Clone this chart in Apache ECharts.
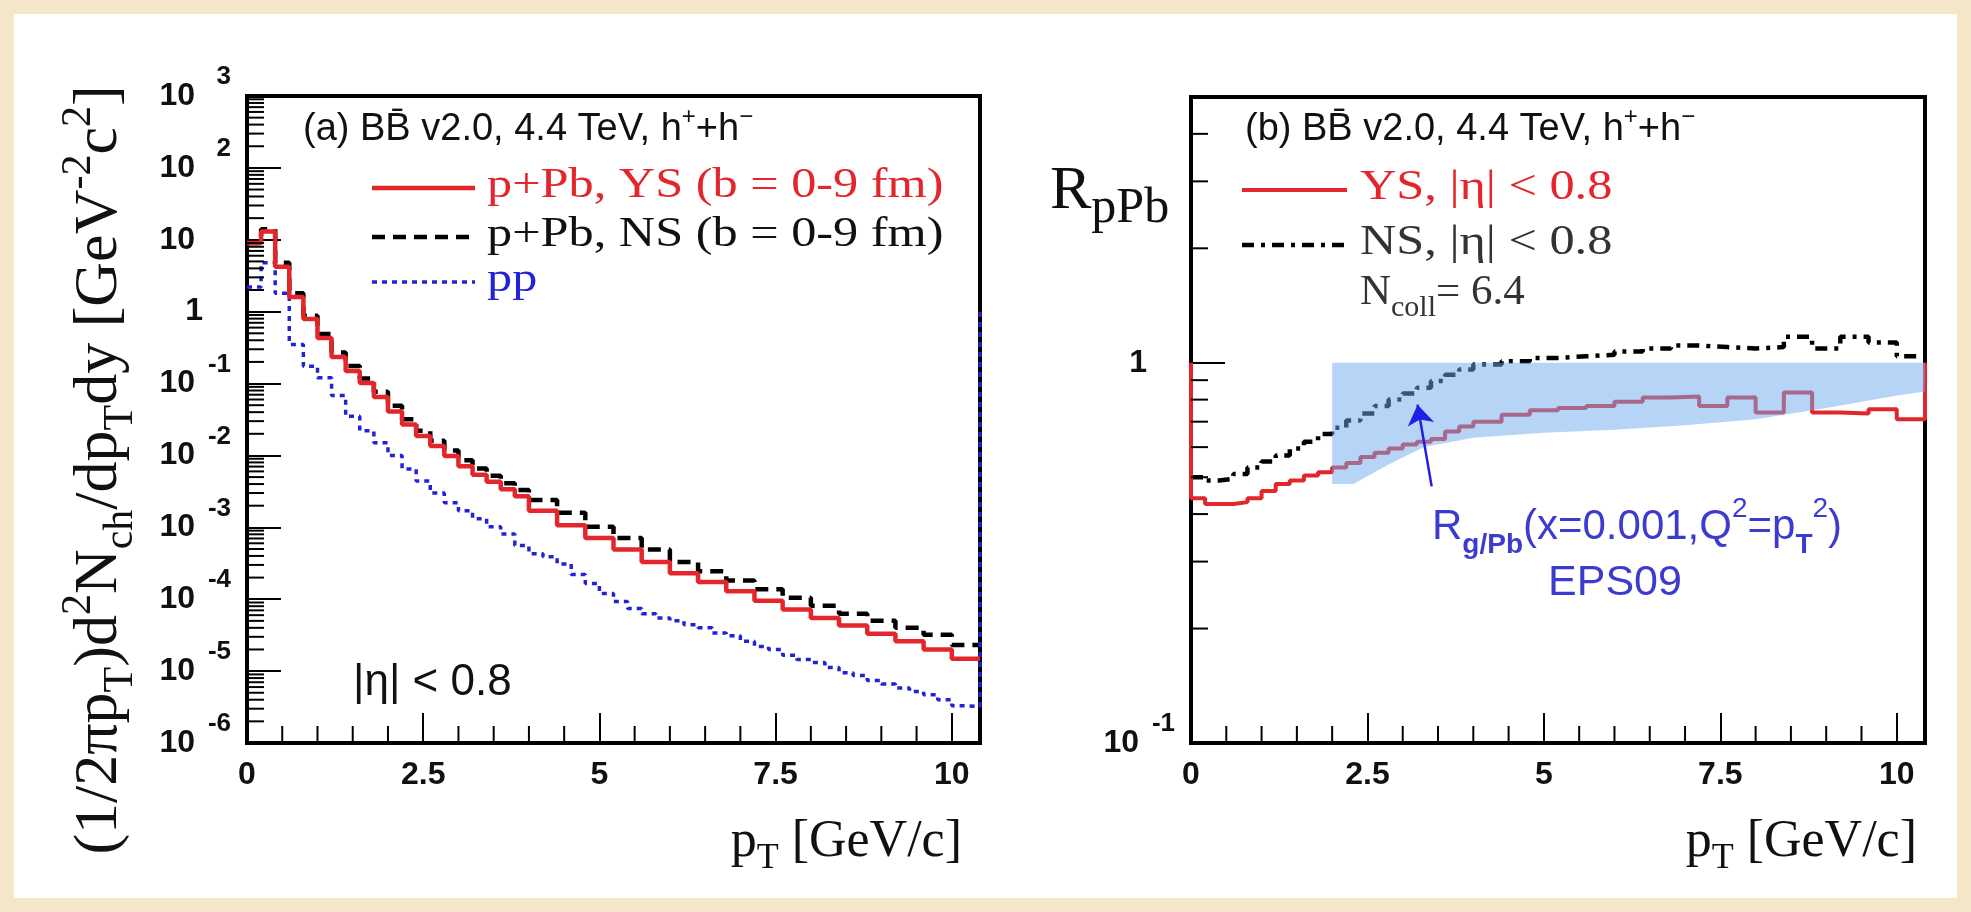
<!DOCTYPE html>
<html>
<head>
<meta charset="utf-8">
<script src="https://cdn.jsdelivr.net/npm/echarts@6/dist/echarts.min.js"></script>
<style>
  html, body { margin: 0; padding: 0; background: #f3e7c7; }
  #chart { width: 1971px; height: 912px; }
</style>
</head>
<body>
<div id="chart"></div>
<script>
// ---- values ----
// low edges of the p+Pb histogram bins (GeV/c), 0.2 wide below 4, 0.4 wide above
const ptEdges = [0, 0.2, 0.4, 0.6, 0.8, 1.0, 1.2, 1.4, 1.6, 1.8, 2.0, 2.2, 2.4, 2.6, 2.8, 3.0, 3.2, 3.4, 3.6, 3.8,
  4.0, 4.4, 4.8, 5.2, 5.6, 6.0, 6.4, 6.8, 7.2, 7.6, 8.0, 8.4, 8.8, 9.2, 9.6, 10.0];
const ptMax = 10.4;

// (a) spectra
const ysSpectrum = [9, 13, 4.2, 1.6, 0.79, 0.43, 0.235, 0.15, 0.102, 0.065, 0.041, 0.027, 0.0186, 0.0135, 0.0098,
  0.0071, 0.0054, 0.0043, 0.0034, 0.0027, 1.7e-3, 1.07e-3, 7.1e-4, 4.9e-4, 3.3e-4, 2.3e-4, 1.74e-4, 1.29e-4,
  9.5e-5, 7.2e-5, 5.5e-5, 4.3e-5, 3.3e-5, 2.6e-5, 2.0e-5, 1.48e-5];
const nsSpectrum = [9, 14, 4.8, 1.8, 0.88, 0.49, 0.27, 0.175, 0.118, 0.077, 0.049, 0.032, 0.022, 0.016, 0.0117,
  0.0086, 0.0066, 0.0052, 0.0041, 0.0033, 2.4e-3, 1.6e-3, 1.02e-3, 7.1e-4, 4.9e-4, 3.3e-4, 2.45e-4, 1.82e-4,
  1.38e-4, 1.05e-4, 8.1e-5, 6.3e-5, 5.0e-5, 4.0e-5, 3.2e-5, 2.3e-5];
// pp spectrum, bins 0.2 wide from 0
const ppBinWidth = 0.2;
const ppSpectrum = [2.2, 4.8, 1.8, 0.35, 0.174, 0.12, 0.068, 0.035, 0.022, 0.015,
  0.010, 0.0065, 0.0044, 0.0030, 0.0022, 0.0017, 0.00132, 0.00102, 8.1e-4, 5.6e-4,
  4.3e-4, 3.9e-4, 3.1e-4, 2.2e-4, 1.66e-4, 1.2e-4, 9.3e-5, 7.4e-5, 6.3e-5, 5.5e-5,
  5.0e-5, 4.4e-5, 4.0e-5, 3.4e-5, 3.1e-5, 2.6e-5, 2.2e-5, 2.0e-5, 1.66e-5, 1.45e-5,
  1.32e-5, 1.12e-5, 9.5e-6, 8.7e-6, 7.4e-6, 6.6e-6, 5.8e-6, 5.2e-6, 4.7e-6, 4.0e-6, 3.3e-6, 3.2e-6];
const ppEdgeLevel = 1.0; // the pp histogram closes up to 1 at the right edge

// (b) nuclear modification factor
const ysRatio = [0.44, 0.425, 0.425, 0.43, 0.44, 0.46, 0.48, 0.49, 0.505, 0.515, 0.53, 0.545, 0.565, 0.58, 0.595,
  0.61, 0.62, 0.63, 0.66, 0.68, 0.70, 0.73, 0.75, 0.76, 0.77, 0.79, 0.81, 0.815, 0.77, 0.81, 0.74, 0.835, 0.74,
  0.735, 0.755, 0.71];
const nsRatio = [0.50, 0.49, 0.495, 0.51, 0.53, 0.55, 0.57, 0.595, 0.62, 0.65, 0.675, 0.705, 0.735, 0.77, 0.80,
  0.83, 0.86, 0.895, 0.93, 0.96, 0.99, 1.01, 1.03, 1.04, 1.05, 1.07, 1.09, 1.11, 1.10, 1.09, 1.10, 1.17, 1.09,
  1.17, 1.13, 1.04];
const ratioEdgeLevel = 1.0; // YS histogram edges drawn up to 1
// EPS09 gluon band
const epsX = [2.0, 2.3, 2.8, 3.3, 4.0, 5.0, 6.0, 7.0, 8.0, 9.0, 10.0, 10.4];
const epsLow = [0.48, 0.48, 0.54, 0.60, 0.635, 0.655, 0.667, 0.685, 0.71, 0.76, 0.82, 0.84];
const epsHigh = [1, 1, 1, 1, 1, 1, 1, 1, 1, 1, 1, 1];
const arrowFrom = [3.41, 0.473];
const arrowTo = [3.21, 0.776];

const xMajor = [0, 2.5, 5, 7.5, 10];
const specRange = [1e-6, 1e3];
const ratioRange = [0.1, 5];

// ---- helpers ----
const serif = '"Liberation Serif","Times New Roman",serif';
const sans = '"Liberation Sans",Arial,Helvetica,sans-serif';
const RED = '#e3262b', BLUE = '#2323d6', INK = '#111';

function hist(edges, vals, end, endVal) {
  const d = edges.map((x, i) => [x, vals[i]]);
  d.push([end, endVal === undefined ? vals[vals.length - 1] : endVal]);
  return d;
}
const ppData = hist(ppSpectrum.map((v, i) => i * ppBinWidth), ppSpectrum, ptMax, ppEdgeLevel);
const ysRatioData = [[0, ratioEdgeLevel]].concat(hist(ptEdges, ysRatio, ptMax, ratioEdgeLevel));

function logLabel(v) {
  const l = Math.log10(v), e = Math.round(l);
  if (Math.abs(l - e) > 1e-6) return '';
  if (e === 0) return '{b|1}{s1| }';
  if (e === 1) return '{b|10}{s| }';
  return '{b|10}{e|' + e + '}';
}
const logRich = {
  b: { fontFamily: sans, fontWeight: 'bold', fontSize: 32, color: INK, lineHeight: 64, verticalAlign: 'middle' },
  e: { fontFamily: sans, fontWeight: 'bold', fontSize: 26, color: INK, lineHeight: 26, verticalAlign: 'top', width: 36, align: 'right' },
  s: { fontSize: 24, width: 36 },
  s1: { fontSize: 24, width: 28 }
};

// minor ticks: log minors on y, half-unit minors on x
function minorTicks(yDecades, yMin, yExtra) {
  const out = [];
  yDecades.forEach(k => { for (let m = 2; m <= 9; m++) out.push([0, m * Math.pow(10, k), 0]); });
  (yExtra || []).forEach(v => out.push([0, v, 0]));
  for (let x = 0.5; x < 10; x += 0.5) if (x % 2.5 !== 0) out.push([x, yMin, 1]);
  return out;
}
function tickRender(params, api) {
  const p = api.coord([api.value(0), api.value(1)]);
  const horiz = api.value(2) === 0;
  return {
    type: 'line',
    shape: horiz ? { x1: p[0], y1: p[1], x2: p[0] + 17, y2: p[1] } : { x1: p[0], y1: p[1], x2: p[0], y2: p[1] - 17 },
    style: { stroke: '#000', lineWidth: 2 }
  };
}

function xAxisCfg(gi) {
  return {
    gridIndex: gi, type: 'value', min: 0, max: ptMax, interval: 2.5,
    axisLine: { lineStyle: { color: '#000', width: 4 } },
    axisTick: { inside: true, length: 30, lineStyle: { color: '#000', width: 2 } },
    splitLine: { show: false },
    axisLabel: {
      margin: 16, showMaxLabel: false, color: INK, fontFamily: sans, fontWeight: 'bold', fontSize: 32,
      formatter: v => (xMajor.indexOf(v) >= 0 ? String(v) : '')
    }
  };
}
function yAxisCfg(gi, range) {
  return {
    gridIndex: gi, type: 'log', logBase: 10, min: range[0], max: range[1],
    axisLine: { lineStyle: { color: '#000', width: 4 } },
    axisTick: { inside: true, length: 34, lineStyle: { color: '#000', width: 2 } },
    splitLine: { show: false },
    axisLabel: { margin: 16, formatter: logLabel, rich: logRich }
  };
}

// legend rows drawn as sample line + text
function legendRow(x0, x1, y, color, dash, width, text, textColor, textX) {
  return [
    { type: 'line', silent: true, shape: { x1: x0, y1: y, x2: x1, y2: y }, style: { stroke: color, lineWidth: width, lineDash: dash } },
    {
      type: 'text', x: textX, y: y - 2, scaleX: 1.17, silent: true,
      style: { text: text, fontFamily: serif, fontSize: 43, fill: textColor, align: 'left', verticalAlign: 'middle' }
    }
  ];
}

const chart = echarts.init(document.getElementById('chart'));
const option = {
  animation: false,
  backgroundColor: '#f3e7c7',
  grid: [
    { left: 247, top: 96, width: 733, height: 647, show: true, borderColor: '#000', borderWidth: 4 },
    { left: 1191, top: 97, width: 734, height: 646, show: true, borderColor: '#000', borderWidth: 4 }
  ],
  xAxis: [xAxisCfg(0), xAxisCfg(1)],
  yAxis: [yAxisCfg(0, specRange), yAxisCfg(1, ratioRange)],
  series: [
    {
      name: 'p+Pb, YS (b = 0-9 fm)', type: 'line', xAxisIndex: 0, yAxisIndex: 0, step: 'end', symbol: 'none',
      lineStyle: { color: RED, width: 4.5 }, z: 3,
      data: hist(ptEdges, ysSpectrum, ptMax)
    },
    {
      name: 'p+Pb, NS (b = 0-9 fm)', type: 'line', xAxisIndex: 0, yAxisIndex: 0, step: 'end', symbol: 'none',
      lineStyle: { color: '#000', width: 4.5, type: [13, 8] }, z: 2,
      data: hist(ptEdges, nsSpectrum, ptMax)
    },
    {
      name: 'pp', type: 'line', xAxisIndex: 0, yAxisIndex: 0, step: 'end', symbol: 'none',
      lineStyle: { color: BLUE, width: 3.5, type: [5, 5] }, z: 2,
      data: ppData
    },
    {
      name: 'YS, |η| < 0.8', type: 'line', xAxisIndex: 1, yAxisIndex: 1, step: 'end', symbol: 'none',
      lineStyle: { color: RED, width: 4 }, z: 3,
      data: ysRatioData
    },
    {
      name: 'NS, |η| < 0.8', type: 'line', xAxisIndex: 1, yAxisIndex: 1, step: 'end', symbol: 'none',
      lineStyle: { color: '#000', width: 4.5, type: [12, 7, 4, 7] }, z: 2,
      data: hist(ptEdges, nsRatio, ptMax)
    },
    {
      name: 'EPS09', type: 'custom', xAxisIndex: 1, yAxisIndex: 1, z: 10, silent: true,
      data: [[epsX[0], epsHigh[0]]],
      renderItem: (params, api) => {
        const top = epsX.map((x, i) => api.coord([x, epsHigh[i]]));
        const bot = epsX.map((x, i) => api.coord([x, epsLow[i]])).reverse();
        return { type: 'polygon', shape: { points: top.concat(bot) }, style: { fill: 'rgba(110,170,238,0.5)' } };
      },
      markLine: {
        silent: true, symbol: ['none', 'arrow'], symbolSize: 20, z: 12,
        label: { show: false },
        lineStyle: { color: '#1f1fe6', width: 2.5, type: 'solid' },
        data: [[{ coord: arrowFrom }, { coord: arrowTo }]]
      }
    },
    {
      type: 'custom', xAxisIndex: 0, yAxisIndex: 0, silent: true, z: 4,
      data: minorTicks([-6, -5, -4, -3, -2, -1, 0, 1, 2], specRange[0]), renderItem: tickRender
    },
    {
      type: 'custom', xAxisIndex: 1, yAxisIndex: 1, silent: true, z: 4,
      data: minorTicks([-1], ratioRange[0], [2, 3, 4]), renderItem: tickRender
    }
  ],
  graphic: [
    { type: 'rect', z: -10, silent: true, shape: { x: 14, y: 14, width: 1943, height: 884 }, style: { fill: '#fff' } },
    {
      type: 'text', x: 100, y: 470, rotation: Math.PI / 2,
      style: {
        text: '(1/2πp{sub|T})d{sup|2}N{sub|ch}/dp{sub|T}dy [GeV{sup|-2}c{sup|2}]',
        fontFamily: serif, fontSize: 62, lineHeight: 84, fill: INK, align: 'center', verticalAlign: 'middle',
        rich: {
          sub: { fontFamily: serif, fontSize: 42, lineHeight: 42, verticalAlign: 'bottom' },
          sup: { fontFamily: serif, fontSize: 42, lineHeight: 42, verticalAlign: 'top' }
        }
      }
    },
    {
      type: 'text', x: 962, y: 842,
      style: {
        text: 'p{sub|T} [GeV/c]', fontFamily: serif, fontSize: 52, lineHeight: 70, fill: INK, align: 'right', verticalAlign: 'middle',
        rich: { sub: { fontFamily: serif, fontSize: 36, lineHeight: 36, verticalAlign: 'bottom' } }
      }
    },
    {
      type: 'text', x: 1917, y: 842,
      style: {
        text: 'p{sub|T} [GeV/c]', fontFamily: serif, fontSize: 52, lineHeight: 70, fill: INK, align: 'right', verticalAlign: 'middle',
        rich: { sub: { fontFamily: serif, fontSize: 36, lineHeight: 36, verticalAlign: 'bottom' } }
      }
    },
    {
      type: 'text', x: 1050, y: 192,
      style: {
        text: 'R{sub|pPb}', fontFamily: serif, fontSize: 62, lineHeight: 84, fill: INK, align: 'left', verticalAlign: 'middle',
        rich: { sub: { fontFamily: serif, fontSize: 50, lineHeight: 50, verticalAlign: 'bottom' } }
      }
    },
    {
      type: 'text', x: 303, y: 130,
      style: {
        text: '(a) BB\u0304 v2.0, 4.4 TeV, h{sup|+}+h{sup|\u2212}', fontFamily: sans, fontSize: 38, lineHeight: 50,
        fill: INK, align: 'left', verticalAlign: 'middle',
        rich: { sup: { fontFamily: sans, fontSize: 24, lineHeight: 24, verticalAlign: 'top' } }
      }
    },
    {
      type: 'text', x: 1245, y: 130,
      style: {
        text: '(b) BB\u0304 v2.0, 4.4 TeV, h{sup|+}+h{sup|\u2212}', fontFamily: sans, fontSize: 38, lineHeight: 50,
        fill: INK, align: 'left', verticalAlign: 'middle',
        rich: { sup: { fontFamily: sans, fontSize: 24, lineHeight: 24, verticalAlign: 'top' } }
      }
    },
    ...legendRow(372, 475, 188, RED, null, 4.5, 'p+Pb, YS (b = 0-9 fm)', RED, 487),
    ...legendRow(372, 475, 237, '#000', [13, 8], 4.5, 'p+Pb, NS (b = 0-9 fm)', INK, 487),
    ...legendRow(372, 475, 282, BLUE, [5, 5], 3.5, 'pp', BLUE, 487),
    ...legendRow(1242, 1347, 190, RED, null, 4, 'YS, |η| < 0.8', RED, 1360),
    ...legendRow(1242, 1347, 245, '#000', [12, 7, 4, 7], 4.5, 'NS, |η| < 0.8', '#333', 1360),
    {
      type: 'text', x: 353, y: 683,
      style: { text: '|η| < 0.8', fontFamily: sans, fontSize: 44, fill: INK, align: 'left', verticalAlign: 'middle' }
    },
    {
      type: 'text', x: 1360, y: 293,
      style: {
        text: 'N{sub|coll}= 6.4', fontFamily: serif, fontSize: 43, lineHeight: 60, fill: '#333', align: 'left', verticalAlign: 'middle',
        rich: { sub: { fontFamily: serif, fontSize: 30, lineHeight: 30, verticalAlign: 'bottom' } }
      }
    },
    {
      type: 'text', x: 1432, y: 527,
      style: {
        text: 'R{sub|g/Pb}(x=0.001,Q{sup|2}=p{sub|T}{sup|2})', fontFamily: sans, fontSize: 42, lineHeight: 64,
        fill: '#3b3bcf', align: 'left', verticalAlign: 'middle',
        rich: {
          sub: { fontFamily: sans, fontWeight: 'bold', fontSize: 28, lineHeight: 28, verticalAlign: 'bottom' },
          sup: { fontFamily: sans, fontSize: 28, lineHeight: 28, verticalAlign: 'top' }
        }
      }
    },
    {
      type: 'text', x: 1615, y: 583,
      style: { text: 'EPS09', fontFamily: sans, fontSize: 43, fill: '#3b3bcf', align: 'center', verticalAlign: 'middle' }
    }
  ]
};
chart.setOption(option);
window.addEventListener('resize', () => chart.resize());
</script>
</body>
</html>
